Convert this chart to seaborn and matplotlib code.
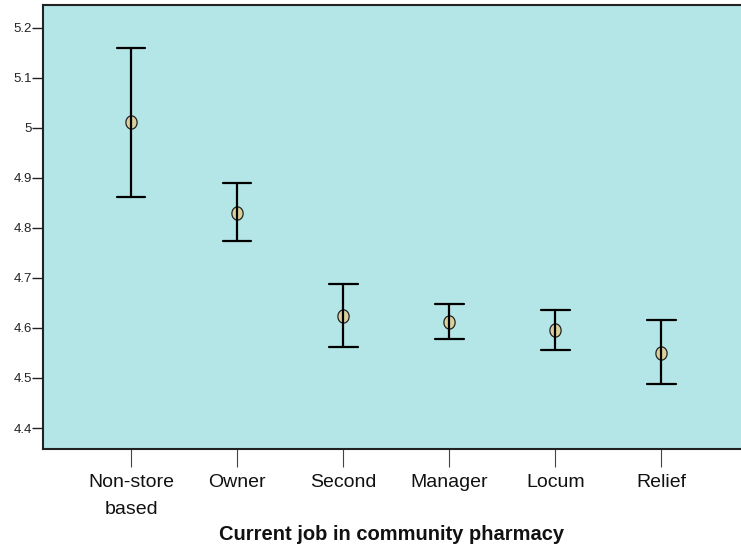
import matplotlib
matplotlib.use("Agg")
import matplotlib.pyplot as plt
import seaborn as sns
import pandas as pd
import numpy as np
from matplotlib.path import Path

# Mean score with 95% CI per job category
jobs = ["Non-store\nbased", "Owner", "Second", "Manager", "Locum", "Relief"]
means = [5.012, 4.829, 4.623, 4.611, 4.595, 4.550]
ci_low = [4.862, 4.774, 4.561, 4.577, 4.555, 4.487]
ci_high = [5.160, 4.889, 4.688, 4.647, 4.635, 4.616]
y_ticks = [4.4, 4.5, 4.6, 4.7, 4.8, 4.9, 5.0, 5.1, 5.2]

# Long table: low / mean / high per category; median picks the mean, full range gives the CI
rows = []
for j, lo, m, hi in zip(jobs, ci_low, means, ci_high):
    for v in (lo, m, hi):
        rows.append({"job": j, "value": v})
df = pd.DataFrame(rows)

# Slightly tall oval marker
theta = np.linspace(0, 2 * np.pi, 40)
oval = Path(np.column_stack([0.85 * np.cos(theta), np.sin(theta)]), closed=True)

sns.set_style("ticks")
plt.rcParams["font.family"] = ["Liberation Sans", "DejaVu Sans"]

fig = plt.figure(figsize=(7.41, 5.5), dpi=100)
ax = fig.add_axes([0.058, 0.1836, 0.942, 0.808])
ax.set_facecolor("#b4e6e7")

sns.pointplot(
    data=df, x="job", y="value", order=jobs,
    estimator="median", errorbar=("pi", 100),
    capsize=0.27, color="black", markers=oval, linestyles="none",
    markerfacecolor="#d9d09a", markeredgecolor="#222222",
    markersize=9.5, markeredgewidth=0.9,
    err_kws={"linewidth": 1.6},
    ax=ax,
)

ax.set_xlim(-0.83, 5.75)
ax.set_ylim(4.358, 5.246)
ax.set_yticks(y_ticks)
ax.set_yticklabels([f"{t:g}" for t in y_ticks], fontsize=9.5, color="#222222")
ax.tick_params(axis="y", length=8, width=1, color="#222222", pad=0)
ax.set_xticks(ax.get_xticks())
ax.set_xticklabels(jobs, linespacing=1.75, color="#111111")
ax.tick_params(axis="x", length=13, width=0.8, color="#444444", labelsize=14, pad=5)

for side in ("left", "bottom", "top"):
    ax.spines[side].set_visible(True)
    ax.spines[side].set_color("#222222")
    ax.spines[side].set_linewidth(1.5)
ax.spines["right"].set_visible(False)

ax.set_xlabel("Current job in community pharmacy", fontsize=14.5, fontweight="bold",
              labelpad=5, color="#111111")
ax.set_ylabel("")

fig.savefig("out.png", dpi=100)
